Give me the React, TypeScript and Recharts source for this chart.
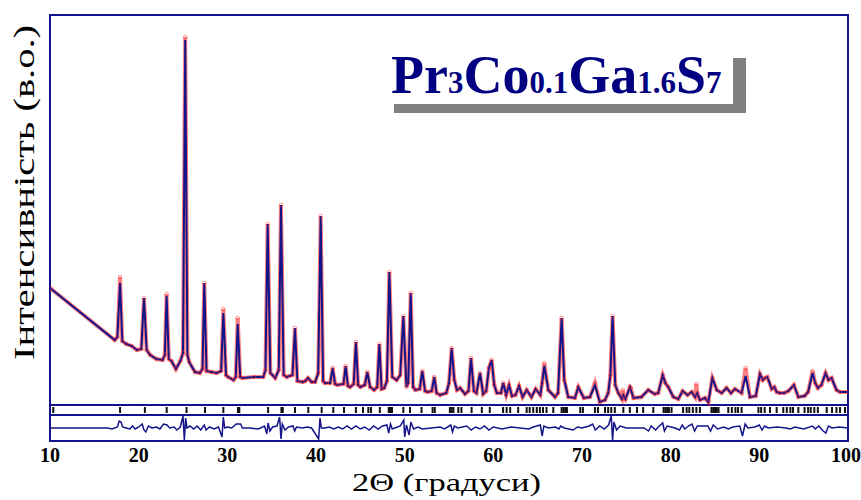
import { ComposedChart, Line, Scatter, XAxis, YAxis, ReferenceLine, ReferenceArea } from 'recharts'

const X_TICKS = [10, 20, 30, 40, 50, 60, 70, 80, 90, 100]

// calculated profile, [2theta, intensity]
const CALC: [number, number][] = [
  [10, 117], [17.3, 65], [17.6, 68], [17.9, 122], [18.15, 64], [18.6, 61], [19.2, 59], [19.8, 55],
  [20.3, 56], [20.6, 107], [20.9, 55], [21.3, 50], [22.0, 46], [22.7, 45], [22.95, 50], [23.15, 109],
  [23.4, 46], [23.7, 44], [24.2, 36], [24.7, 44], [25.0, 52], [25.25, 365], [25.5, 50], [25.7, 43],
  [26.35, 33], [26.9, 32], [27.2, 36], [27.4, 122], [27.65, 34], [28.2, 33], [28.8, 32], [29.3, 34],
  [29.55, 92], [29.85, 30], [30.1, 28], [30.7, 25], [30.95, 28], [31.17, 81], [31.45, 28], [31.7, 27],
  [33.0, 28], [34.05, 28], [34.3, 35], [34.55, 181], [34.85, 32], [35.4, 27], [35.8, 35], [36.05, 200],
  [36.35, 30], [36.7, 28], [37.35, 30], [37.63, 77], [37.9, 24], [38.5, 23], [38.8, 24], [39.1, 27],
  [39.5, 23], [39.9, 23], [40.25, 32], [40.53, 189], [40.8, 24], [41.0, 22], [41.6, 22], [41.88, 37],
  [42.15, 21], [42.4, 20], [43.1, 21], [43.34, 39], [43.6, 19], [43.85, 18], [44.25, 21], [44.5, 63],
  [44.75, 20], [45.0, 18], [45.5, 20], [45.79, 33], [46.1, 18], [46.55, 15], [46.9, 18], [47.14, 61],
  [47.4, 16], [47.7, 17], [48.0, 24], [48.27, 133], [48.6, 28], [49.1, 25], [49.5, 30], [49.85, 89],
  [50.2, 18], [50.4, 22], [50.68, 112], [50.95, 18], [51.2, 15], [51.7, 16], [51.99, 34], [52.3, 14],
  [52.6, 13], [53.05, 14], [53.34, 28], [53.6, 12], [54.0, 10], [54.7, 12], [55.0, 22], [55.3, 57],
  [55.6, 25], [55.9, 15], [56.25, 17], [56.8, 11], [57.2, 14], [57.48, 47], [57.8, 14], [58.1, 12],
  [58.5, 32], [58.85, 11], [59.2, 14], [59.5, 37], [59.81, 45], [60.1, 20], [60.4, 12], [60.85, 12],
  [61.12, 22], [61.45, 10], [61.77, 20], [62.1, 9], [62.5, 10], [62.9, 19], [63.3, 8], [63.76, 15],
  [64.3, 8], [64.77, 16], [65.3, 10], [65.5, 22], [65.75, 39], [66.2, 15], [66.95, 8], [67.3, 12],
  [67.7, 87], [68.0, 25], [68.45, 8], [69.2, 7], [69.58, 18], [70.2, 7], [70.9, 8], [71.46, 20],
  [72.0, 3], [72.6, 5], [72.96, 12], [73.2, 30], [73.45, 89], [73.75, 20], [74.1, 12], [74.5, 6],
  [74.66, 10], [74.9, 6], [75.41, 18], [75.8, 7], [76.7, 8], [77.47, 15], [78.2, 11], [78.6, 12],
  [79.1, 30], [79.4, 22], [79.73, 18], [80.3, 8], [80.86, 6], [81.35, 14], [81.9, 10], [82.37, 13],
  [82.75, 8], [83.0, 12], [83.3, 5], [83.87, 7], [84.25, 3], [84.7, 27], [85.2, 15], [85.75, 12],
  [86.3, 17], [86.8, 12], [87.25, 16], [88.0, 12], [88.45, 29], [88.94, 8], [89.6, 9], [90.07, 31],
  [90.4, 25], [90.64, 27], [90.9, 28], [91.4, 16], [91.7, 18], [91.95, 13], [92.3, 12], [92.8, 12],
  [93.27, 14], [93.9, 20], [94.4, 8], [95.1, 9], [95.5, 13], [96.0, 32], [96.3, 22], [96.6, 17],
  [97.0, 20], [97.47, 32], [97.8, 25], [98.15, 27], [98.7, 15], [99.1, 13], [100, 13],
]

// observed points that stand off the fit
const OBS_TOPS: [number, number][] = [
  [17.9, 128], [23.15, 111], [25.25, 368], [29.55, 96], [31.17, 87], [65.75, 42], [71.46, 22],
  [74.6, 15], [75.5, 17], [82.9, 21], [88.45, 37], [96.0, 34],
]

// difference Iobs - Icalc
const DIFF: [number, number][] = [
  [10, 0], [16.5, 0], [17.0, -1], [17.6, 1], [17.8, 7], [18.0, 6], [18.2, 1], [18.6, 0], [19.0, -1],
  [19.3, 2], [19.6, -1], [20.0, 1], [20.4, 4], [20.6, -2], [20.8, -4], [21.1, 2], [21.5, 0], [22.0, 1],
  [22.4, -1], [22.8, 4], [23.2, 3], [23.5, 0], [24.0, 1], [24.3, -2], [24.7, 1], [25.0, 12], [25.15, -12],
  [25.3, 10], [25.45, 0], [25.8, 2], [26.2, -1], [26.6, 2], [27.0, -2], [27.4, 3], [27.6, -2], [28.0, 1],
  [28.5, -1], [29.0, 1], [29.4, -9], [29.55, 11], [29.7, 0], [30.0, 1], [30.5, 0], [31.0, 4], [31.5, 4],
  [31.7, 0], [32.5, 0], [33.5, -1], [34.2, 2], [34.45, -6], [34.6, 5], [34.8, -3], [35.1, 1], [35.6, 2],
  [35.9, 11], [36.05, -11], [36.2, 4], [36.5, -2], [36.9, 1], [37.4, 2], [37.6, -3], [37.8, 1], [38.5, 0],
  [39.0, 1], [39.5, 0], [40.3, -11], [40.45, 10], [40.6, 0], [41.0, 0], [41.5, 1], [42, -1], [42.5, 1],
  [43, -1], [43.5, 2], [44.0, -1], [44.5, 2], [45, -1], [45.5, 1], [46, -2], [46.5, 2], [47, -1],
  [47.5, 2], [48.0, 3], [48.2, -5], [48.4, 4], [48.6, -1], [49.5, 2], [49.9, 8], [50.0, -9], [50.2, 3],
  [50.5, -7], [50.7, 6], [51, -1], [51.5, 1], [52, -1], [53, 0], [54, 1], [54.5, -1], [55.2, 3],
  [55.4, -4], [55.6, 2], [56, 0], [57.0, 2], [57.5, -2], [58, 1], [58.5, -1], [59, 2], [59.5, -2],
  [60, 1], [61, -1], [62, 1], [63, 0], [64, -1], [64.5, 1], [65.3, 3], [65.5, -8], [65.7, 2], [66.2, 0],
  [67, 1], [67.4, -1], [67.6, 2], [68, 0], [69, -2], [69.5, 1], [70, 0], [70.8, 2], [71.2, 4], [71.5, -2],
  [72, 2], [72.5, -1], [73.0, 3], [73.3, 12], [73.45, -12], [73.6, 6], [73.9, -2], [74.3, 2], [75, 0],
  [76, 0], [77, 0], [77.5, -3], [77.8, 2], [78.3, -2], [78.6, 1], [79.1, 5], [79.3, -3], [79.6, 2],
  [80.5, 0], [81, -2], [81.3, 3], [81.6, -1], [82.0, 2], [82.4, 4], [82.7, -3], [83, 2], [84.2, 2],
  [84.5, -3], [84.8, 3], [85.3, -1], [86, 1], [86.5, -1], [87, 1], [87.8, 2], [88.1, -8], [88.4, 4],
  [88.7, 0], [89.5, 1], [90.0, 3], [90.3, -2], [90.6, 2], [91, 0], [92, 1], [93, 0], [93.5, -1], [94, 1],
  [95, -1], [96.0, 2], [96.3, -1], [96.7, 2], [97.2, -3], [97.5, -5], [97.8, 2], [98.2, 0], [99, 1], [100, 0],
]

// Bragg reflection positions
const BRAGG: number[] = [
  10.37, 17.9, 20.7, 23.16, 25.4, 27.48, 29.55, 31.2, 31.35, 34.6, 36.1, 36.25, 37.63, 39.13, 40.64,
  41.95, 43.16, 44.5, 45.3, 45.9, 46.2, 47.2, 48.2, 48.35, 48.57, 49.85, 50.6, 51.9, 53.15, 53.4, 55.1,
  55.3, 55.5, 56.05, 56.4, 57.55, 58.7, 59.6, 61.1, 61.5, 61.9, 62.8, 63.76, 64.1, 64.5, 64.9, 65.25,
  65.6, 66.0, 66.76, 67.7, 67.9, 68.1, 68.3, 69.8, 70.1, 71.46, 71.8, 72.6, 72.95, 73.3, 73.7, 74.66,
  75.4, 76.2, 76.9, 78.04, 79.2, 79.4, 79.6, 79.8, 80.1, 81.4, 81.8, 82.1, 82.5, 82.9, 83.3, 84.6, 84.8,
  85.0, 85.2, 85.4, 86.5, 86.9, 87.3, 87.6, 88.0, 89.9, 90.2, 90.6, 91.2, 91.95, 92.7, 93.1, 93.5, 93.8,
  94.4, 95.1, 95.5, 95.8, 96.2, 96.6, 97.6, 98.2, 98.7, 99.1, 99.66,
]

const DIFF_ZERO = -23
const TICK_ROW = -5

const NAVY = '#14148a'
const RED = '#ff2a2a'
const SERIF = '"Liberation Serif", "Times New Roman", serif'

const calcData = CALC.map(([t, v]) => ({ t, v }))

const obsMap = new Map<number, number>(CALC)
OBS_TOPS.forEach(([t, v]) => obsMap.set(t, v))
const obsData = [...obsMap.entries()].sort((a, b) => a[0] - b[0]).map(([t, v]) => ({ t, v }))

const diffData = DIFF.map(([t, d]) => ({ t, v: DIFF_ZERO + d }))
const braggData = BRAGG.map((t) => ({ t, v: TICK_ROW }))

const BraggTick = (p: any) => <rect x={p.cx - 1} y={p.cy - 3} width={2} height={6} fill="#111" />

export default function App() {
  return (
    <div style={{ position: 'fixed', left: 0, top: 0, width: 861, height: 500, background: '#fff' }}>
      <ComposedChart width={861} height={500} margin={{ top: 15, right: 13, bottom: 29, left: 50 }}>
        <XAxis
          type="number"
          dataKey="t"
          domain={[10, 100]}
          ticks={X_TICKS}
          allowDataOverflow
          axisLine={false}
          tickLine={false}
          tickMargin={1}
          height={30}
          tick={{ fontFamily: SERIF, fontWeight: 'bold', fontSize: 20, fill: '#000' }}
        />
        <YAxis type="number" domain={[-36, 390]} allowDataOverflow hide />
        <ReferenceArea x1={10} x2={100} y1={-36} y2={390} fill="none" stroke={NAVY} strokeWidth={2} />
        <ReferenceLine y={0} stroke={NAVY} strokeWidth={2} />
        <ReferenceLine y={-10} stroke={NAVY} strokeWidth={2} />
        <Scatter data={braggData} dataKey="v" shape={BraggTick} isAnimationActive={false} />
        <Line data={diffData} dataKey="v" type="linear" stroke={NAVY} strokeWidth={1.5} dot={false} isAnimationActive={false} />
        <Line
          data={obsData}
          dataKey="v"
          type="linear"
          stroke={RED}
          strokeOpacity={0.6}
          strokeWidth={4}
          dot={{ r: 1.8, stroke: RED, strokeWidth: 0.8, fill: 'none' }}
          isAnimationActive={false}
        />
        <Line data={calcData} dataKey="v" type="linear" stroke={NAVY} strokeWidth={2} dot={false} isAnimationActive={false} />
      </ComposedChart>
      <svg width={861} height={500} style={{ position: 'absolute', left: 0, top: 0, pointerEvents: 'none' }}>
        <rect x={394} y={58} width={352} height={55} fill="#808080" />
        <rect x={381} y={45} width={352} height={59} fill="#fff" />
        <text x={391} y={93} fontFamily={SERIF} fontWeight="bold" fill="#000080" fontSize={54}>
          Pr<tspan fontSize={31}>3</tspan>Co<tspan fontSize={31}>0.1</tspan>Ga<tspan fontSize={31}>1.6</tspan>S
          <tspan fontSize={31}>7</tspan>
        </text>
        <text
          transform="translate(34,192.5) rotate(-90)"
          textAnchor="middle"
          fontFamily={SERIF}
          fontSize={30}
          textLength={335}
          lengthAdjust="spacingAndGlyphs"
          fill="#000"
        >
          Інтенсивність (в.о.)
        </text>
        <text
          x={446.5}
          y={491}
          textAnchor="middle"
          fontFamily={SERIF}
          fontSize={26}
          textLength={189}
          lengthAdjust="spacingAndGlyphs"
          fill="#000"
        >
          2Θ (градуси)
        </text>
      </svg>
    </div>
  )
}
